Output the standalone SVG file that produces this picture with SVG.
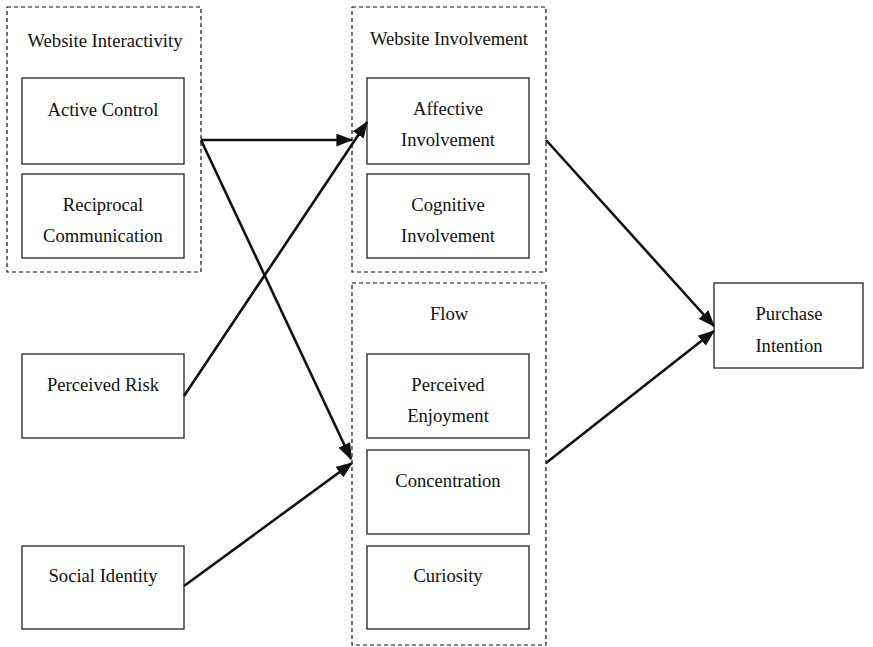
<svg xmlns="http://www.w3.org/2000/svg" width="873" height="647" viewBox="0 0 873 647">
<style>
.grp{fill:none;stroke:#111;stroke-width:1.2;stroke-dasharray:4,3}
.box{fill:#fff;stroke:#222;stroke-width:1.3}
text{font-family:"Liberation Serif","Times New Roman",serif;font-size:18.6px;fill:#111;text-anchor:middle}
.arr{fill:none;stroke:#111;stroke-width:2.6;marker-end:url(#ah)}
</style>
<defs>
<marker id="ah" markerWidth="6.5" markerHeight="5" refX="6" refY="2.5" orient="auto" markerUnits="strokeWidth">
<path d="M0,0 L6.5,2.5 L0,5 Z" fill="#111"/>
</marker>
</defs>
<rect width="873" height="647" fill="#fff"/>
<g id="website-interactivity">
<rect class="grp" x="7" y="7" width="194" height="265"/>
<text x="105" y="47">Website Interactivity</text>
</g>
<g id="active-control">
<rect class="box" x="22" y="78" width="162" height="86"/>
<text x="103" y="116">Active Control</text>
</g>
<g id="reciprocal-communication">
<rect class="box" x="22" y="174" width="162" height="84"/>
<text x="103" y="211">Reciprocal</text>
<text x="103" y="242">Communication</text>
</g>
<g id="website-involvement">
<rect class="grp" x="352" y="7" width="194" height="265"/>
<text x="449" y="45">Website Involvement</text>
</g>
<g id="affective-involvement">
<rect class="box" x="367" y="78" width="162" height="86"/>
<text x="448" y="115">Affective</text>
<text x="448" y="146">Involvement</text>
</g>
<g id="cognitive-involvement">
<rect class="box" x="367" y="174" width="162" height="84"/>
<text x="448" y="211">Cognitive</text>
<text x="448" y="242">Involvement</text>
</g>
<g id="flow">
<rect class="grp" x="352" y="283" width="194" height="362"/>
<text x="449" y="320">Flow</text>
</g>
<g id="perceived-enjoyment">
<rect class="box" x="367" y="354" width="162" height="84"/>
<text x="448" y="391">Perceived</text>
<text x="448" y="422">Enjoyment</text>
</g>
<g id="concentration">
<rect class="box" x="367" y="450" width="162" height="84"/>
<text x="448" y="487">Concentration</text>
</g>
<g id="curiosity">
<rect class="box" x="367" y="546" width="162" height="83"/>
<text x="448" y="582">Curiosity</text>
</g>
<g id="perceived-risk">
<rect class="box" x="22" y="354" width="162" height="84"/>
<text x="103" y="391">Perceived Risk</text>
</g>
<g id="social-identity">
<rect class="box" x="22" y="546" width="162" height="83"/>
<text x="103" y="582">Social Identity</text>
</g>
<g id="purchase-intention">
<rect class="box" x="714" y="283" width="149" height="85"/>
<text x="789" y="320">Purchase</text>
<text x="789" y="352">Intention</text>
</g>
<g id="connectors">
<line class="arr" x1="201" y1="140" x2="352" y2="140"/>
<line class="arr" x1="201" y1="140" x2="351" y2="459"/>
<line class="arr" x1="184" y1="396" x2="367" y2="122"/>
<line class="arr" x1="184" y1="586" x2="352" y2="463"/>
<line class="arr" x1="546" y1="140" x2="714" y2="326"/>
<line class="arr" x1="546" y1="463" x2="714" y2="331"/>
</g>
</svg>
